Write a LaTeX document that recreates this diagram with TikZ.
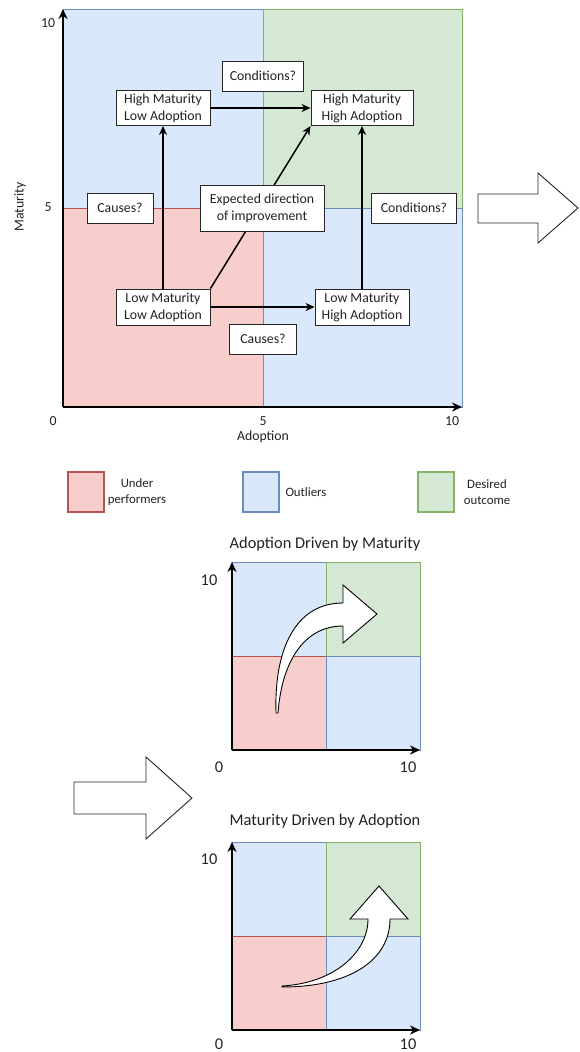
\documentclass[tikz,border=0pt]{standalone}
\usepackage{fontspec}
\setmainfont{Carlito}
\usetikzlibrary{arrows.meta}
\definecolor{redF}{HTML}{F8CECC}
\definecolor{redS}{HTML}{B85450}
\definecolor{bluF}{HTML}{DAE8FC}
\definecolor{bluS}{HTML}{6C8EBF}
\definecolor{grnF}{HTML}{D5E8D4}
\definecolor{grnS}{HTML}{82B366}
\definecolor{txt}{HTML}{222222}
\begin{document}
\begin{tikzpicture}[x=1pt,y=-1pt,
  font=\fontsize{13.8}{17}\selectfont, text=txt,
  qred/.style={fill=redF,draw=redS,line width=0.8pt},
  qblu/.style={fill=bluF,draw=bluS,line width=0.8pt},
  qgrn/.style={fill=grnF,draw=grnS,line width=0.8pt},
  lred/.style={fill=redF,draw=redS,line width=1.4pt},
  lblu/.style={fill=bluF,draw=bluS,line width=1.4pt},
  lgrn/.style={fill=grnF,draw=grnS,line width=1.4pt},
  box/.style={draw=black!85,fill=white,line width=0.9pt,align=center,inner sep=0pt},
  conn/.style={line width=1.5pt,-{Stealth[length=9pt,width=8pt]}},
  axis/.style={line width=1.8pt,-{Stealth[length=10pt,width=9pt]}},
  blockarrow/.style={draw=black!85,fill=white,line width=0.9pt,line join=miter},
  curvearrow/.style={draw=black,fill=white,line width=0.9pt,line join=miter},
  lbl/.style={inner sep=0pt},
  big/.style={inner sep=0pt,font=\fontsize{16.4}{19}\selectfont},
  leg/.style={inner sep=0pt,align=center,font=\fontsize{12.8}{16.5}\selectfont}
]
\useasboundingbox (0,0) rectangle (579,1052);

% ---------------- main chart ----------------
\filldraw[qblu] (63,9) rectangle (263,208);
\filldraw[qgrn] (263,9) rectangle (462,208);
\filldraw[qred] (63,208) rectangle (263,407);
\filldraw[qblu] (263,208) rectangle (462,407);

\coordinate (O) at (63,407);
\coordinate (Ytop) at (63,9);
\coordinate (Xend) at (462,407);
\draw[axis] (O) -- (Ytop);
\draw[axis] (O) -- (Xend);

\node[lbl] (y10) at (48,23) {10};
\node[lbl] (y5) at (48,207) {5};
\node[lbl] (x0) at (53,421) {0};
\node[lbl] (x5) at (263,421) {5};
\node[lbl] (x10) at (452,421) {10};
\node[lbl,rotate=90] (ylab) at (20,207) {Maturity};
\node[lbl] (xlab) at (263,437) {Adoption};

\node[box,minimum width=94pt,minimum height=36pt] (LL) at (163,307) {Low Maturity\\Low Adoption};
\node[box,minimum width=94pt,minimum height=36pt] (LH) at (362,307) {Low Maturity\\High Adoption};
\node[box,minimum width=94pt,minimum height=35pt] (HL) at (163,108) {High Maturity\\Low Adoption};
\node[box,minimum width=102pt,minimum height=35pt] (HH) at (362,108) {High Maturity\\High Adoption};

\draw[conn] (LL.north east) -- (HH.south west);
\draw[conn] (LL.north) -- (HL.south);
\draw[conn] (HL.east) -- (HH.west);
\draw[conn] (LL.east) -- (LH.west);
\draw[conn] (LH.north) -- (HH.south);

\node[box,minimum width=81pt,minimum height=30pt] (cond1) at (263,76) {Conditions?};
\node[box,minimum width=66pt,minimum height=30pt] (caus1) at (120,208) {Causes?};
\node[box,minimum width=124pt,minimum height=46pt] (exp) at (262,208) {Expected direction\\of improvement};
\node[box,minimum width=85pt,minimum height=30pt] (cond2) at (414,208) {Conditions?};
\node[box,minimum width=67pt,minimum height=30pt] (caus2) at (263,339) {Causes?};

% big block arrow right
\draw[blockarrow] (478,194) -- (538,194) -- (538,173) -- (578,208) -- (538,243) -- (538,223) -- (478,223) -- cycle;

% ---------------- legend ----------------
\filldraw[lred] (68,472) rectangle (104,512);
\node[leg] (legR) at (137,492) {Under\\performers};
\filldraw[lblu] (243,472) rectangle (279,512);
\node[leg] (legB) at (306,492) {Outliers};
\filldraw[lgrn] (418,472) rectangle (454,512);
\node[leg] (legG) at (487,492) {Desired\\outcome};

% ---------------- chart 1 ----------------
\node[big] (t1) at (325,544) {Adoption Driven by Maturity};
\filldraw[qblu] (232,562) rectangle (326,656);
\filldraw[qgrn] (326,562) rectangle (420,656);
\filldraw[qred] (232,656) rectangle (326,750);
\filldraw[qblu] (326,656) rectangle (420,750);
\coordinate (O1) at (232,750);
\coordinate (Y1) at (232,562);
\coordinate (X1) at (420,750);
\draw[axis] (O1) -- (Y1);
\draw[axis] (O1) -- (X1);
\node[big] (c1y10) at (209,580) {10};
\node[big] (c1x0) at (219,767) {0};
\node[big] (c1x10) at (408,767) {10};
\draw[curvearrow] (276,713) .. controls (274,650) and (295,603) .. (343,603)
  -- (343,585) -- (377,614) -- (343,643) -- (343,626)
  .. controls (305,626) and (282,660) .. (278,713) -- cycle;

% big block arrow left
\draw[blockarrow] (74,782) -- (146,782) -- (146,757) -- (192,798) -- (146,839) -- (146,814) -- (74,814) -- cycle;

% ---------------- chart 2 ----------------
\node[big] (t2) at (325,821) {Maturity Driven by Adoption};
\filldraw[qblu] (232,842) rectangle (326,936);
\filldraw[qgrn] (326,842) rectangle (420,936);
\filldraw[qred] (232,936) rectangle (326,1030);
\filldraw[qblu] (326,936) rectangle (420,1030);
\coordinate (O2) at (232,1030);
\coordinate (Y2) at (232,842);
\coordinate (X2) at (420,1030);
\draw[axis] (O2) -- (Y2);
\draw[axis] (O2) -- (X2);
\node[big] (c2y10) at (209,859) {10};
\node[big] (c2x0) at (219,1044) {0};
\node[big] (c2x10) at (408,1044) {10};
\draw[curvearrow] (282,987) .. controls (350,987) and (390,960) .. (390,919)
  -- (408,919) -- (379,886) -- (350,919) -- (368,919)
  .. controls (368,952) and (335,983) .. (282,986) -- cycle;
\end{tikzpicture}
\end{document}
